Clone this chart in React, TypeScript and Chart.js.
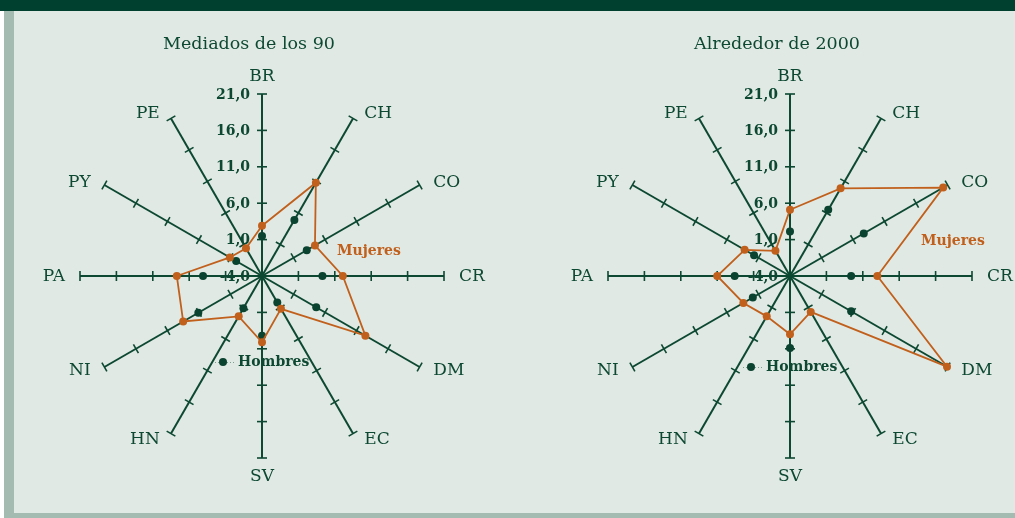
import React, { useEffect, useRef } from 'react';
import { Chart, registerables } from 'chart.js';

Chart.register(...registerables);

// ---- data ----
const categories = ['BR', 'CH', 'CO', 'CR', 'DM', 'EC', 'SV', 'HN', 'NI', 'PA', 'PY', 'PE'];
const tickValues = [-4, 1, 6, 11, 16, 21];
const tickLabels = ['-4,0', '1,0', '6,0', '11,0', '16,0', '21,0'];
const scaleMin = -4;
const scaleMax = 21;

const titles = ['Mediados de los 90', 'Alrededor de 2000'];
const seriesNames = ['Mujeres', 'Hombres'];

const mujeres90 = [2.9, 10.8, 4.4, 7.1, 12.4, 1.2, 5.1, 2.4, 8.5, 7.7, 1.1, 0.4];
const hombres90 = [1.5, 4.9, 3.1, 4.3, 4.6, 0.2, 4.2, 1.1, 6.1, 4.1, 0.1, null];
const mujeres00 = [5.1, 9.9, 20.3, 8.0, 20.9, 1.7, 4.0, 2.4, 3.4, 6.0, 3.2, 0.0];
const hombres00 = [2.1, 6.5, 7.7, 4.4, 5.7, null, 5.9, null, 1.9, 3.6, 1.7, null];

// ---- styles ----
const GREEN = '#0c4832';
const DOT_GREEN = '#0a4330';
const ORANGE = '#c0601c';
const FONT = '"DejaVu Serif", serif';

type PanelCfg = {
  title: string;
  mujeres: (number | null)[];
  hombres: (number | null)[];
  left: number;
  width: number;
  padding: { left: number; right: number; top: number; bottom: number };
  mujAt: [number, number];
  homAt: [number, number];
};

const decorPlugin = {
  id: 'radarDecor',
  beforeDatasetsDraw(chart: any, _args: any, opts: any) {
    const s = chart.scales.r;
    const ctx = chart.ctx as CanvasRenderingContext2D;
    const n = chart.data.labels.length;
    const cx = s.xCenter;
    const cy = s.yCenter;
    const R = s.drawingArea;
    ctx.save();
    // tick marks on each spoke
    ctx.strokeStyle = GREEN;
    ctx.lineWidth = 1.6;
    for (let i = 0; i < n; i++) {
      const a = s.getIndexAngle(i) - Math.PI / 2;
      const px = -Math.sin(a);
      const py = Math.cos(a);
      for (const v of tickValues) {
        if (v === scaleMin) continue;
        const p = s.getPointPositionForValue(i, v);
        ctx.beginPath();
        ctx.moveTo(p.x - px * 5, p.y - py * 5);
        ctx.lineTo(p.x + px * 5, p.y + py * 5);
        ctx.stroke();
      }
    }
    // tick labels on first spoke
    ctx.fillStyle = GREEN;
    ctx.font = `bold 14px ${FONT}`;
    ctx.textAlign = 'right';
    ctx.textBaseline = 'middle';
    tickValues.forEach((v, k) => {
      const y = cy - s.getDistanceFromCenterForValue(v);
      ctx.fillText(tickLabels[k], cx - 12, y + 1);
    });
    // point labels
    ctx.font = `17px ${FONT}`;
    for (let i = 0; i < n; i++) {
      const th = s.getIndexAngle(i);
      const sn = Math.sin(th);
      const cs = Math.cos(th);
      if (Math.abs(sn) < 0.01) {
        const p = s.getPointPosition(i, R + 18);
        ctx.textAlign = 'center';
        ctx.fillText(chart.data.labels[i], p.x, p.y + 1);
      } else {
        const e = s.getPointPosition(i, R);
        const gap = 10 + 5 * sn * sn;
        ctx.textAlign = sn > 0 ? 'left' : 'right';
        ctx.fillText(chart.data.labels[i], e.x + Math.sign(sn) * gap, e.y - 6.5 * cs + 0.5);
      }
    }
    // title
    ctx.textAlign = 'center';
    ctx.font = `17.5px ${FONT}`;
    ctx.fillText(opts.title, cx - 13, 44);
    // series annotations
    ctx.font = `bold 14px ${FONT}`;
    ctx.textAlign = 'left';
    ctx.fillStyle = ORANGE;
    ctx.fillText(seriesNames[0], cx + opts.mujAt[0], cy + opts.mujAt[1]);
    const hx = cx + opts.homAt[0];
    const hy = cy + opts.homAt[1];
    ctx.strokeStyle = '#7f9d8f';
    ctx.lineWidth = 1;
    ctx.setLineDash([1, 2]);
    ctx.beginPath();
    ctx.moveTo(hx - 23, hy + 0.5);
    ctx.lineTo(hx - 2, hy + 0.5);
    ctx.stroke();
    ctx.setLineDash([]);
    ctx.fillStyle = DOT_GREEN;
    ctx.beginPath();
    ctx.arc(hx - 15, hy, 4, 0, Math.PI * 2);
    ctx.fill();
    ctx.fillStyle = GREEN;
    ctx.fillText(seriesNames[1], hx, hy);
    ctx.restore();
  },
};

function RadarPanel(props: PanelCfg) {
  const ref = useRef<HTMLCanvasElement>(null);
  useEffect(() => {
    const chart = new Chart(ref.current as HTMLCanvasElement, {
      type: 'radar',
      data: {
        labels: categories,
        datasets: [
          {
            label: seriesNames[0],
            data: props.mujeres as any,
            borderColor: ORANGE,
            backgroundColor: ORANGE,
            borderWidth: 1.8,
            fill: false,
            pointRadius: 4,
            pointBorderWidth: 0,
            pointBackgroundColor: ORANGE,
          },
          {
            label: seriesNames[1],
            data: props.hombres as any,
            borderColor: DOT_GREEN,
            backgroundColor: DOT_GREEN,
            showLine: false,
            fill: false,
            pointRadius: 4,
            pointBorderWidth: 0,
            pointBackgroundColor: DOT_GREEN,
          },
        ],
      },
      options: {
        responsive: false,
        animation: false,
        devicePixelRatio: 1,
        layout: { padding: props.padding },
        plugins: {
          legend: { display: false },
          tooltip: { enabled: false },
          radarDecor: { title: props.title, mujAt: props.mujAt, homAt: props.homAt },
        } as any,
        scales: {
          r: {
            min: scaleMin,
            max: scaleMax,
            ticks: { display: false, stepSize: 5 },
            grid: { display: false },
            angleLines: { display: true, color: GREEN, lineWidth: 2 },
            pointLabels: { display: false },
          },
        },
      },
      plugins: [decorPlugin],
    });
    return () => chart.destroy();
  }, []);
  return (
    <canvas
      ref={ref}
      width={props.width}
      height={518}
      style={{ position: 'absolute', left: props.left, top: 0, width: props.width, height: 518 }}
    />
  );
}

export default function App() {
  return (
    <div style={{ position: 'fixed', left: 0, top: 0, width: 1015, height: 518, background: '#ffffff', overflow: 'hidden' }}>
      <div style={{ position: 'absolute', left: 0, top: 0, width: 1015, height: 11, background: '#00402e' }} />
      <div style={{ position: 'absolute', left: 4, top: 11, width: 1011, height: 507, background: '#a3bbb0' }} />
      <div style={{ position: 'absolute', left: 14, top: 11, width: 1001, height: 502, background: '#e1e9e4' }} />
      <RadarPanel
        title={titles[0]}
        mujeres={mujeres90}
        hombres={hombres90}
        left={0}
        width={527}
        padding={{ left: 80, right: 83, top: 94, bottom: 60 }}
        mujAt={[75, -25]}
        homAt={[-24, 86]}
      />
      <RadarPanel
        title={titles[1]}
        mujeres={mujeres00}
        hombres={hombres00}
        left={527}
        width={488}
        padding={{ left: 81, right: 43, top: 94, bottom: 60 }}
        mujAt={[131, -35]}
        homAt={[-24, 91]}
      />
    </div>
  );
}
